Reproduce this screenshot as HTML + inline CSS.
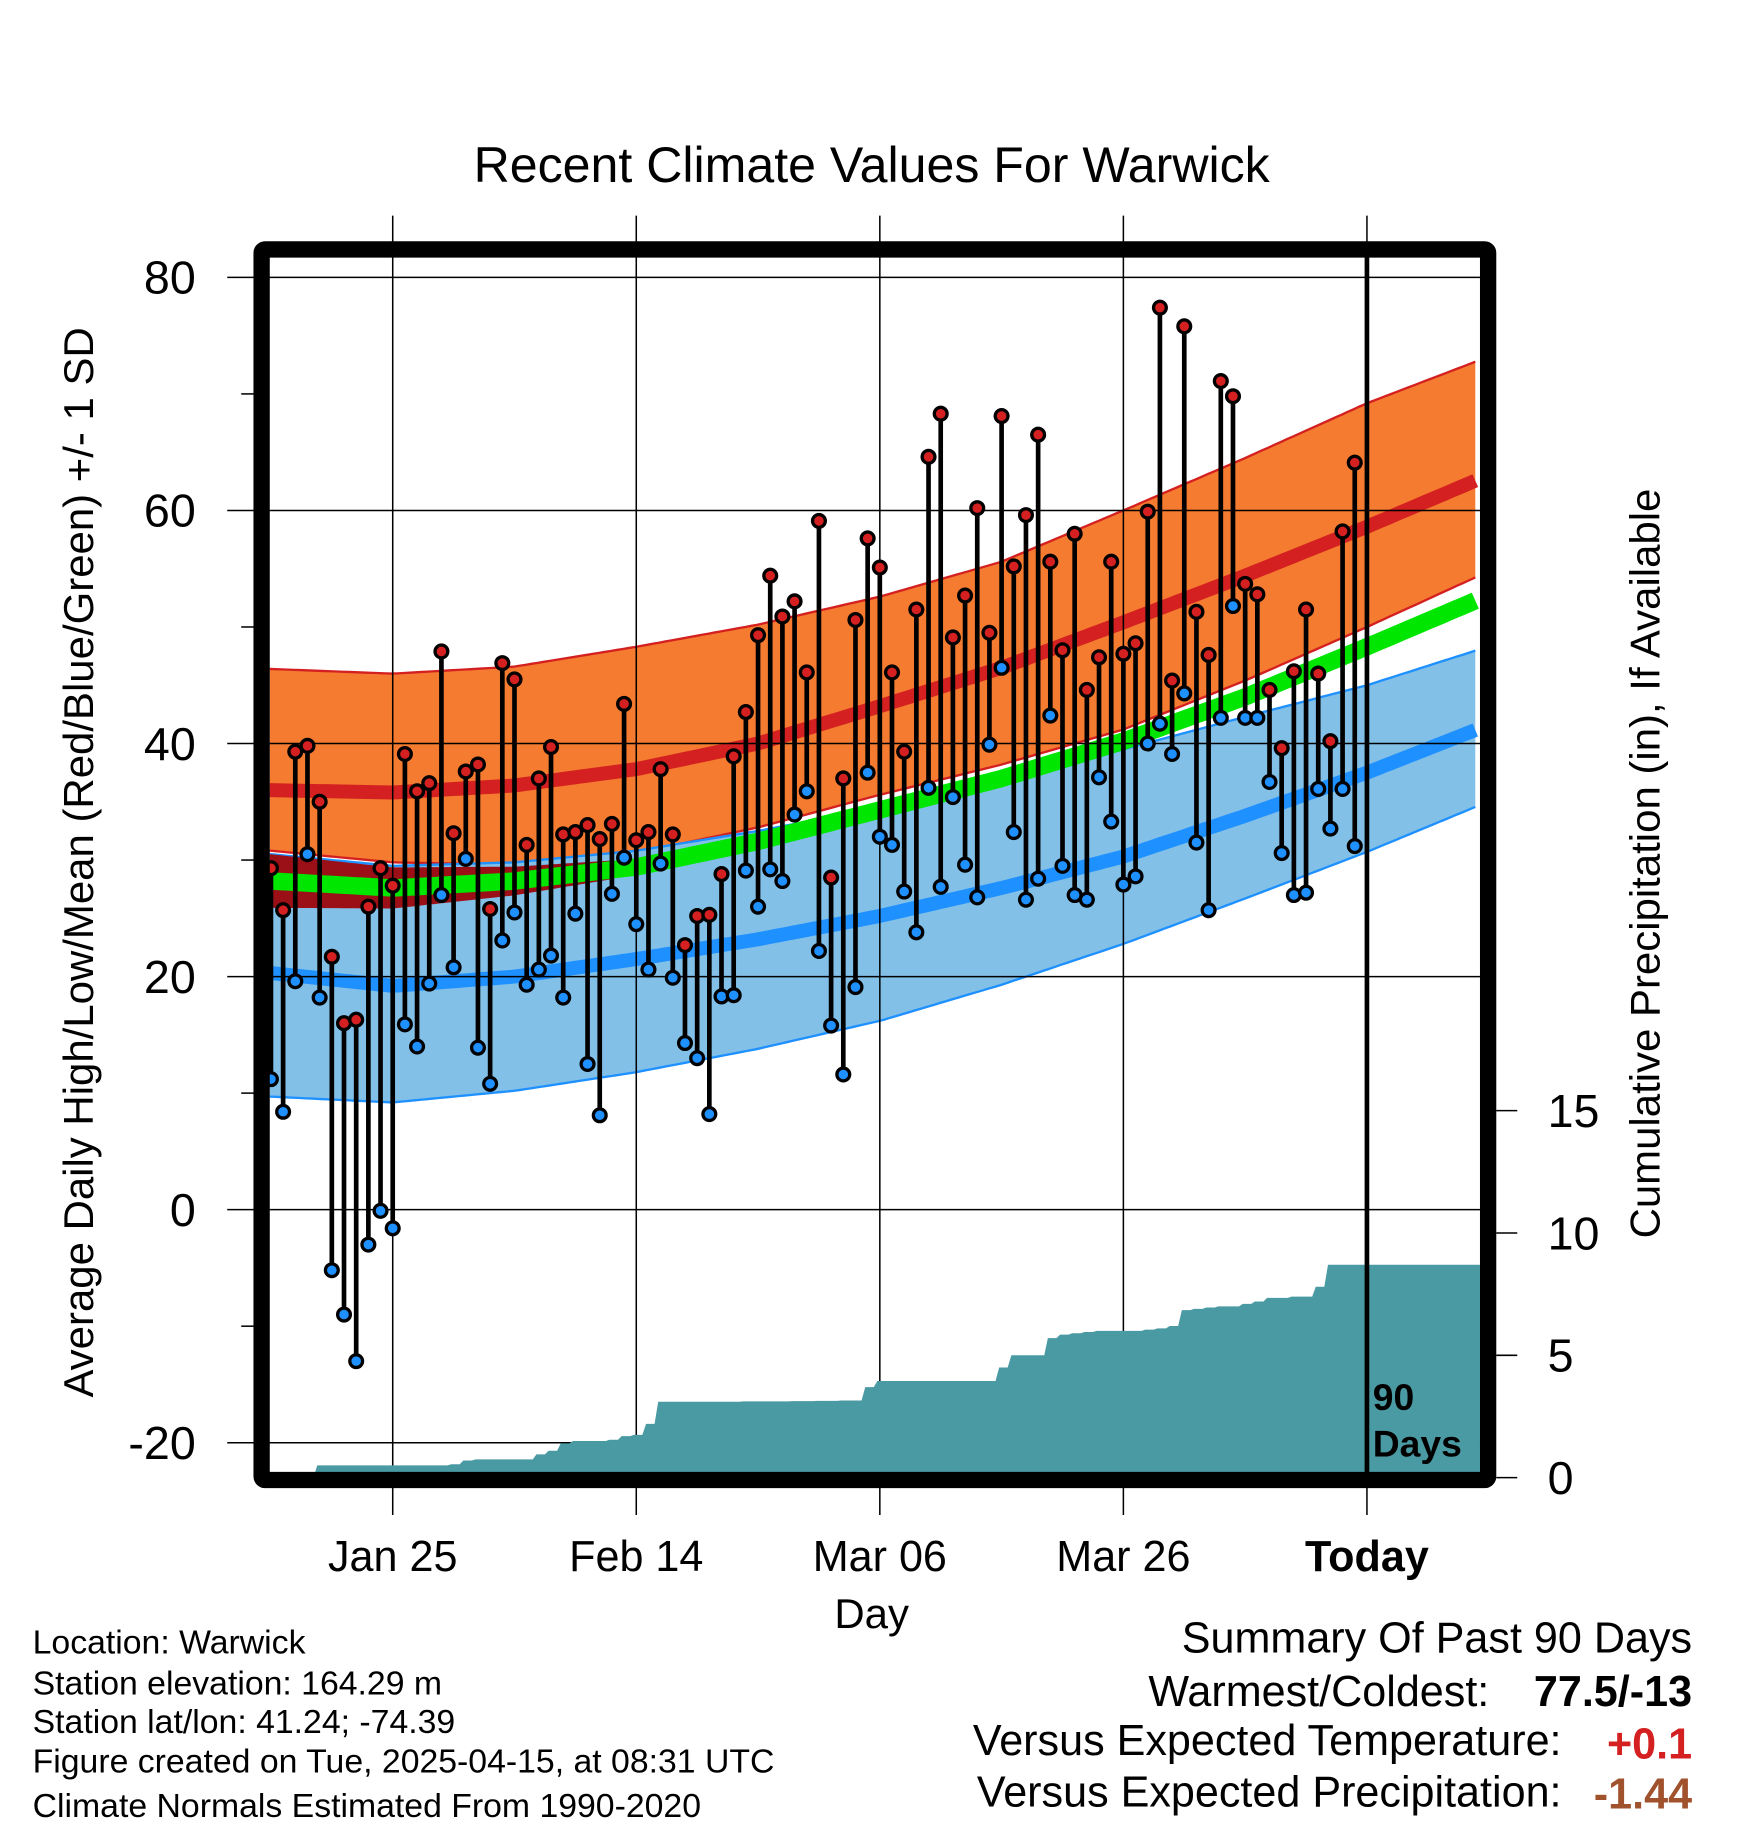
<!DOCTYPE html>
<html><head><meta charset="utf-8"><style>
html,body{margin:0;padding:0;background:#fff;}
svg{display:block;font-family:"Liberation Sans",sans-serif;}
</style></head><body>
<svg id="chart" width="1748" height="1828" viewBox="0 0 1500 1568.6" xmlns="http://www.w3.org/2000/svg">
<text x="748" y="156" font-size="43" text-anchor="middle">Recent Climate Values For Warwick</text>
<g id="bands"></g>
<g id="grid"></g>
<g id="precip"></g>
<g id="marks"></g>
<g id="frame"></g>
<text transform="translate(80,740) rotate(-90)" font-size="36" text-anchor="middle">Average Daily High/Low/Mean (Red/Blue/Green) +/- 1 SD</text>
<text transform="translate(1424,741) rotate(-90)" font-size="36" text-anchor="middle">Cumulative Precipitation (in), If Available</text>
<text x="748" y="1397" font-size="36" text-anchor="middle">Day</text>
<text x="1178" y="1210" font-size="32" font-weight="bold">90</text>
<text x="1178" y="1250" font-size="32" font-weight="bold">Days</text>
<g font-size="29">
<text x="28" y="1419">Location: Warwick</text>
<text x="28" y="1454">Station elevation: 164.29 m</text>
<text x="28" y="1487">Station lat/lon: 41.24; -74.39</text>
<text x="28" y="1521">Figure created on Tue, 2025-04-15, at 08:31 UTC</text>
<text x="28" y="1559">Climate Normals Estimated From 1990-2020</text>
</g>
<g font-size="37">
<text x="1452" y="1418" text-anchor="end">Summary Of Past 90 Days</text>
<text x="1278" y="1464" text-anchor="end">Warmest/Coldest:</text>
<text x="1452" y="1464" text-anchor="end" font-weight="bold">77.5/-13</text>
<text x="1340" y="1506" text-anchor="end">Versus Expected Temperature:</text>
<text x="1452" y="1509" text-anchor="end" font-weight="bold" fill="#d42020">+0.1</text>
<text x="1340" y="1550" text-anchor="end">Versus Expected Precipitation:</text>
<text x="1452" y="1552" text-anchor="end" font-weight="bold" fill="#a0522d">-1.44</text>
</g>
</svg>
<script>
const highs=[29.3,25.7,39.3,39.8,35.0,21.7,16.0,16.3,26.0,29.3,27.8,39.1,35.9,36.6,47.9,32.3,37.6,38.2,25.8,46.9,45.5,31.3,37.0,39.7,32.2,32.4,33.0,31.8,33.1,43.4,31.7,32.4,37.8,32.2,22.7,25.2,25.3,28.8,38.9,42.7,49.3,54.4,50.9,52.2,46.1,59.1,28.5,37.0,50.6,57.6,55.1,46.1,39.3,51.5,64.6,68.3,49.1,52.7,60.2,49.5,68.1,55.2,59.6,66.5,55.6,48.0,58.0,44.6,47.4,55.6,47.7,48.6,59.9,77.4,45.4,75.8,51.3,47.6,71.1,69.8,53.7,52.8,44.6,39.6,46.2,51.5,46.0,40.2,58.2,64.1];
const lows=[11.2,8.4,19.6,30.5,18.2,-5.2,-9.0,-13.0,-3.0,-0.1,-1.6,15.9,14.0,19.4,27.0,20.8,30.1,13.9,10.8,23.1,25.5,19.3,20.6,21.8,18.2,25.4,12.5,8.1,27.1,30.2,24.5,20.6,29.7,19.9,14.3,13.0,8.2,18.3,18.4,29.1,26.0,29.2,28.2,33.9,35.9,22.2,15.8,11.6,19.1,37.5,32.0,31.3,27.3,23.8,36.2,27.7,35.4,29.6,26.8,39.9,46.5,32.4,26.6,28.4,42.4,29.5,27.0,26.6,37.1,33.3,27.9,28.6,40.0,41.7,39.1,44.3,31.5,25.7,42.2,51.8,42.2,42.2,36.7,30.6,27.0,27.2,36.1,32.7,36.1,31.2];
const precip=[0,0,0,0,0.5,0.5,0.5,0.5,0.5,0.5,0.5,0.5,0.5,0.5,0.5,0.55,0.7,0.75,0.75,0.75,0.75,0.75,0.95,1.1,1.4,1.5,1.5,1.5,1.55,1.7,1.75,2.2,3.1,3.1,3.1,3.1,3.1,3.1,3.1,3.12,3.12,3.12,3.12,3.13,3.13,3.14,3.14,3.15,3.15,3.7,3.95,3.95,3.95,3.95,3.95,3.95,3.95,3.95,3.95,3.95,4.5,5.0,5.0,5.0,5.7,5.85,5.9,5.95,6.0,6.0,6.0,6.0,6.05,6.1,6.2,6.85,6.9,6.95,7.0,7.0,7.1,7.2,7.35,7.35,7.4,7.4,7.8,8.7,8.7,8.7];
const normDays=[0,10,20,30,40,50,60,70,80,90,99];
const hiPlus=[46.4,46.0,46.6,48.3,50.2,52.6,55.6,60.0,64.5,69.2,72.8];
const hiMean=[36.0,35.8,36.4,37.8,40.0,43.2,46.5,50.4,54.4,58.6,62.6];
const hiMinus=[30.8,29.8,29.6,30.6,32.8,35.6,38.2,41.2,45.4,50.0,54.3];
const meanT=[28.2,27.6,28.2,29.4,31.6,34.3,37.0,40.2,44.0,48.3,52.3];
const loPlus=[30.5,29.5,29.8,30.8,32.5,34.5,36.8,39.5,42.3,45.0,48.0];
const loMean=[20.3,19.2,20.0,21.5,23.2,25.2,27.6,30.3,33.8,37.5,41.2];
const loMinus=[9.7,9.2,10.2,11.8,13.8,16.2,19.3,22.8,26.7,30.7,34.6];
const xTickLabels=["Jan 25","Feb 14","Mar 06","Mar 26","Today"];
const xTickDays=[10,30,50,70,90];
const yTicks=[80,60,40,20,0,-20];
const pTicks=[0,5,10,15];

const NS="http://www.w3.org/2000/svg";
const X=d=>232.5+10.45*d;
const Y=v=>1038-10*v;
const P=p=>1268-21*p;
const XEND=1270;
function mk(tag,attrs,parent){const e=document.createElementNS(NS,tag);for(const k in attrs)e.setAttribute(k,attrs[k]);parent.appendChild(e);return e;}
function interp(arr,d){for(let i=0;i<normDays.length-1;i++){if(d<=normDays[i+1]){const t=(d-normDays[i])/(normDays[i+1]-normDays[i]);return arr[i]+(arr[i+1]-arr[i])*t;}}return arr[arr.length-1];}
function curve(arr,off){const pts=[];for(let d=-0.1;d<=99.2;d+=0.5){pts.push([X(d),Y(interp(arr,d)+(off||0))]);}return pts;}
function ptsStr(p){return p.map(a=>a[0].toFixed(1)+","+a[1].toFixed(1)).join(" ");}
const bands=document.getElementById('bands');
let up=curve(hiPlus),dn=curve(hiMinus);
let e=mk('polygon',{points:ptsStr(up.concat(dn.slice().reverse())),fill:'#f47b2f'},bands);


e=mk('polyline',{points:ptsStr(up),fill:'none',stroke:'#d42020','stroke-width':2},bands);


e=mk('polyline',{points:ptsStr(dn),fill:'none',stroke:'#d42020','stroke-width':2},bands);


up=curve(loPlus);dn=curve(loMinus);
e=mk('polygon',{points:ptsStr(up.concat(dn.slice().reverse())),fill:'#82c0e8'},bands);


e=mk('polyline',{points:ptsStr(up),fill:'none',stroke:'#1e90ff','stroke-width':2},bands);


e=mk('polyline',{points:ptsStr(dn),fill:'none',stroke:'#1e90ff','stroke-width':2},bands);


{const a=[],b=[];for(let d=-0.1;d<=28;d+=0.5){const m=interp(meanT,d);const w=2.3-1.5*d/28;a.push([X(d),Y(m+w)]);b.push([X(d),Y(m-w)]);}
e=mk('polygon',{points:ptsStr(a.concat(b.reverse())),fill:'#9a1016'},bands);

}
e=mk('polyline',{points:ptsStr(curve(meanT)),fill:'none',stroke:'#00e600','stroke-width':15},bands);


e=mk('polyline',{points:ptsStr(curve(hiMean)),fill:'none',stroke:'#d42020','stroke-width':12},bands);


e=mk('polyline',{points:ptsStr(curve(loMean)),fill:'none',stroke:'#1e90ff','stroke-width':12},bands);



const grid=document.getElementById('grid');
yTicks.forEach(v=>{
 const l=mk('line',{x1:195,x2:XEND,y1:Y(v),y2:Y(v),stroke:'#000','stroke-width':1.3},grid);
 
 
 const t=mk('text',{x:168,y:Y(v)+14,'font-size':40,'text-anchor':'end'},grid);
 t.textContent=v;
 
 
 if(v>-20){
 const m=mk('line',{x1:207,x2:220,y1:Y(v-10),y2:Y(v-10),stroke:'#000','stroke-width':1.3},grid);
 
 }
});
xTickDays.forEach((d,i)=>{
 const l=mk('line',{x1:X(d),x2:X(d),y1:185,y2:1300,stroke:'#000','stroke-width':1.3},grid);
 
 
 const t=mk('text',{x:X(d),y:1348,'font-size':37,'text-anchor':'middle','font-weight':i==4?'bold':'normal'},grid);
 t.textContent=xTickLabels[i];
 
 
});
pTicks.forEach(p=>{
 const l=mk('line',{x1:1284,x2:1302,y1:P(p),y2:P(p),stroke:'#000','stroke-width':1.3},grid);
 
 
 const t=mk('text',{x:1328,y:P(p)+14,'font-size':40},grid);
 t.textContent=p;
 
 
});

{const pts=[[X(-0.5),P(0)]];let prev=0;
precip.forEach((p,i)=>{pts.push([X(i-0.5),P(prev)]);pts.push([X(i-0.2),P(p)]);prev=p;});
pts.push([XEND,P(prev)]);pts.push([XEND,P(0)]);
e=mk('polygon',{points:ptsStr(pts),fill:'#4a9aa3'},document.getElementById('precip'));

}

const marks=document.getElementById('marks');
highs.forEach((h,i)=>{
 const s=mk('line',{x1:X(i),x2:X(i),y1:Y(h),y2:Y(lows[i]),stroke:'#000','stroke-width':4},marks);
 
 
});
highs.forEach((h,i)=>{
 const c=mk('circle',{cx:X(i),cy:Y(h),r:5.5,fill:'#d42020',stroke:'#000','stroke-width':2.8},marks);
 
 
 const c2=mk('circle',{cx:X(i),cy:Y(lows[i]),r:5.5,fill:'#1e90ff',stroke:'#000','stroke-width':2.8},marks);
 
 
});

const fr=document.getElementById('frame');
e=mk('line',{x1:X(90),x2:X(90),y1:214,y2:1266,stroke:'#000','stroke-width':4},fr);


e=mk('rect',{x:224.5,y:214,width:1052.5,height:1056,fill:'none',stroke:'#000','stroke-width':14,rx:3},fr);


</script>
</body></html>
